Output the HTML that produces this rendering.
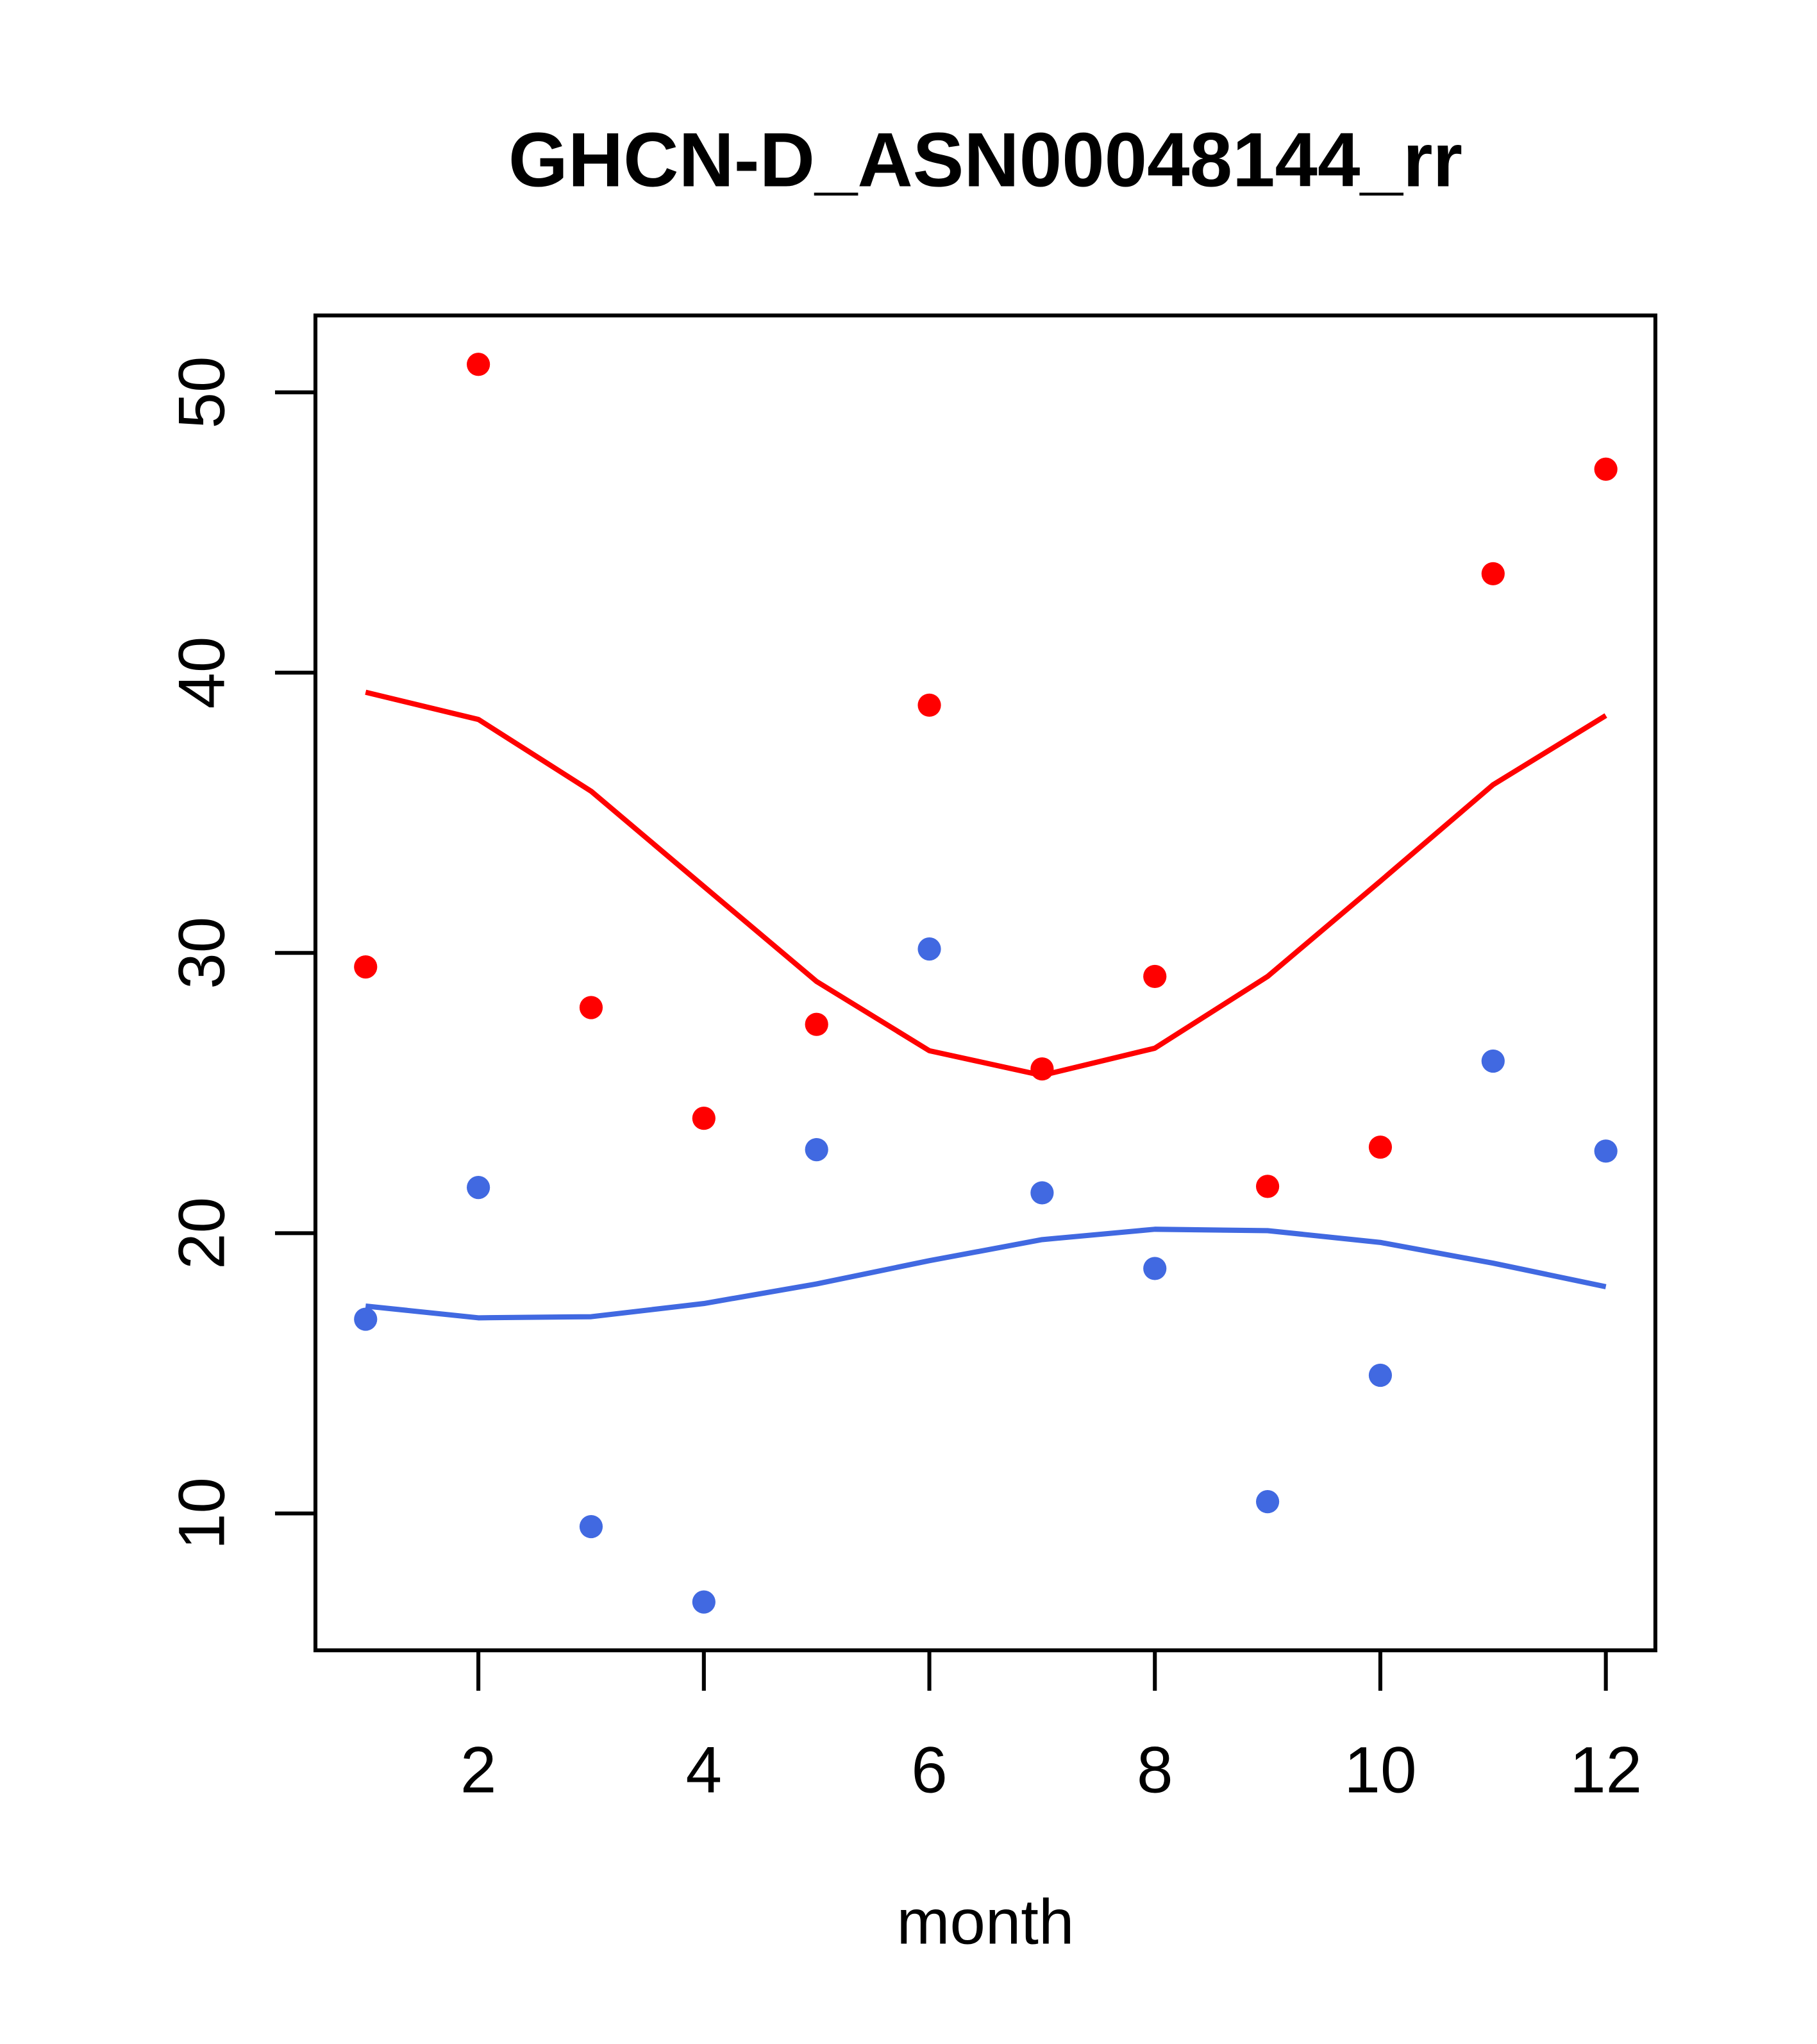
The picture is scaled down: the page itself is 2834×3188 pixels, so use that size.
<!DOCTYPE html>
<html><head><meta charset="utf-8"><style>
html,body{margin:0;padding:0;background:#fff;}
svg{display:block;}
text{font-family:"Liberation Sans",Arial,sans-serif;fill:#000;}
</style></head>
<body>
<svg id="chart" width="2834" height="3188" viewBox="0 0 1394 1568" preserveAspectRatio="none" xmlns="http://www.w3.org/2000/svg">
<rect width="1394" height="1568" fill="#fff"/>
<text x="756" y="143" text-anchor="middle" font-size="59" font-weight="bold" textLength="732" lengthAdjust="spacingAndGlyphs">GHCN-D_ASN00048144_rr</text>
<text x="756" y="1491" text-anchor="middle" font-size="49">month</text>
<g id="marks"></g>
<rect x="242" y="242" width="1028" height="1024" fill="none" stroke="#000" stroke-width="3"/>
</svg>
<script>
const months = [1,2,3,4,5,6,7,8,9,10,11,12];
const redPoints = [29.5,51.0,28.05,24.1,27.45,38.84,25.86,29.16,21.67,23.07,43.53,47.26];
const redLine = [39.3,38.33,35.77,32.37,28.98,26.51,25.63,26.6,29.16,32.56,36.0,38.47];
const bluePoints = [16.93,21.63,9.53,6.84,22.98,30.14,21.44,18.74,10.42,14.93,26.14,22.93];
const blueLine = [17.4,16.98,17.02,17.49,18.19,19.02,19.77,20.14,20.09,19.67,18.93,18.09];
const xTicks = [2,4,6,8,10,12];
const yTicks = [10,20,30,40,50];

const NS = "http://www.w3.org/2000/svg";
const g = document.getElementById('marks');
function sx(m){ return 280.5 + (m-1)*86.5; }
function sy(v){ return 1161 - (v-10)*21.5; }
function mk(tag, attrs){ const e=document.createElementNS(NS,tag); for(const k in attrs) e.setAttribute(k,attrs[k]); g.appendChild(e); return e; }

xTicks.forEach(t=>{
  const l = mk('line',{x1:sx(t),x2:sx(t),y1:1266,y2:1297,stroke:'#000','stroke-width':3});
  
  
  const tx = mk('text',{x:sx(t),y:1375,'text-anchor':'middle','font-size':50});
  tx.textContent = t;
  
  
});
yTicks.forEach(t=>{
  const l = mk('line',{x1:211,x2:242,y1:sy(t),y2:sy(t),stroke:'#000','stroke-width':3});
  
  
  const tx = mk('text',{x:0,y:0,'text-anchor':'middle','font-size':50,transform:'translate(172,'+sy(t)+') rotate(-90)'});
  tx.textContent = t;
  
  
});
function line(vals,color,name){
  const p = mk('polyline',{points:vals.map((v,i)=>sx(months[i])+','+sy(v)).join(' '),fill:'none',stroke:color,'stroke-width':4,'stroke-linejoin':'round'});
  
  
}
function pts(vals,color,name){
  vals.forEach((v,i)=>{
    const c = mk('circle',{cx:sx(months[i]),cy:sy(v),r:8.9,fill:color});
    
    
  });
}
line(redLine,'#FF0000','red-smooth-line');
line(blueLine,'#4169E1','blue-smooth-line');
pts(redPoints,'#FF0000','red-point');
pts(bluePoints,'#4169E1','blue-point');
</script>
</body></html>
